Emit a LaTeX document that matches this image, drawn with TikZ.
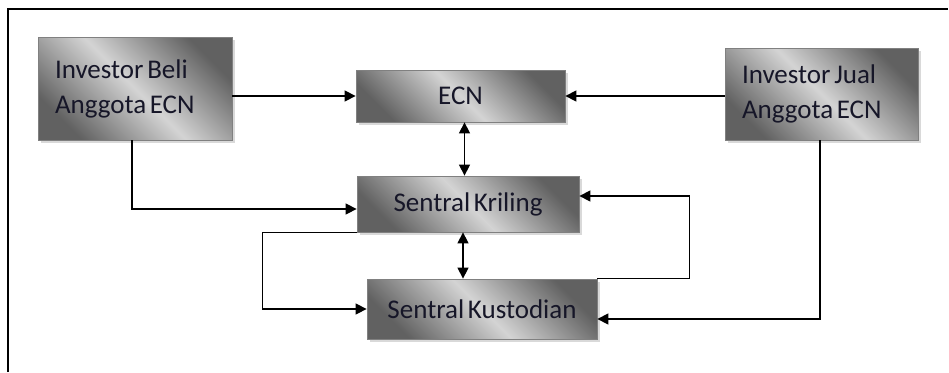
\documentclass[tikz,border=0pt]{standalone}
\usepackage{fontspec}
\setmainfont{Carlito}[WordSpace=0.6]
\usepackage{tikz}
\usetikzlibrary{arrows.meta}
\usetikzlibrary{shadows}
\definecolor{teks}{RGB}{22,22,40}
\tikzset{
  kotak/.style={draw=black!50, line width=0.8pt, top color=black!62, bottom color=black!62, middle color=black!17, shading angle=-45, drop shadow={shadow xshift=2.5pt, shadow yshift=-2.5pt, opacity=.3}, text=teks, font=\fontsize{27}{35}\selectfont},
  kiri/.style={kotak, align=flush left, inner xsep=17pt},
  panah/.style={-{Triangle[length=11pt,width=11pt]}, line width=1.4pt},
  panahdua/.style={{Triangle[length=11pt,width=11pt]}-{Triangle[length=11pt,width=11pt]}, line width=1.4pt}
}
\begin{document}
\begin{tikzpicture}[x=1pt,y=-1pt]
	  \useasboundingbox (0,0) rectangle (949,372);
	  \draw [line width=2.2pt] (8,372) -- (8,9) -- (948,9);
	  \node [kiri, text width=160pt, minimum width=194pt, minimum height=103pt] (beli) at (135,88.5) {Investor Beli\\Anggota ECN};
	  \node [kiri, text width=159pt, minimum width=193pt, minimum height=92pt] (jual) at (821.5,94) {Investor Jual\\Anggota ECN};
	  \node [kotak, minimum width=209pt, minimum height=52pt] (ecn) at (460.5,96) {ECN};
	  \node [kotak, minimum width=222pt, minimum height=56pt] (kriling) at (468,204) {Sentral Kriling};
	  \node [kotak, minimum width=230pt, minimum height=60pt] (kustodian) at (482,309) {Sentral Kustodian};
	  \draw [panah] (beli.east |- ecn.west) -- (ecn.west);
	  \draw [panah] (jual.west |- ecn.east) -- (ecn.east);
	  \draw [panahdua] ([xshift=4pt]ecn.south) -- ([xshift=4pt]ecn.south |- kriling.north);
	  \draw [panah] ([xshift=-3pt]beli.south) |- ([yshift=-5pt]kriling.west);
	  \draw [panahdua] ([xshift=-5pt]kriling.south) -- ([xshift=-5pt]kriling.south |- kustodian.north);
	  \draw [panah] (kriling.south west) -- ++(-94,0) |- (kustodian.west);
	  \draw [panah] (kustodian.north east) -- ++(92,0) |- ([yshift=8pt]kriling.east);
	  \draw [panah] ([xshift=-1.5pt]jual.south) |- ([yshift=-10pt]kustodian.east);
	\end{tikzpicture}
\end{document}
